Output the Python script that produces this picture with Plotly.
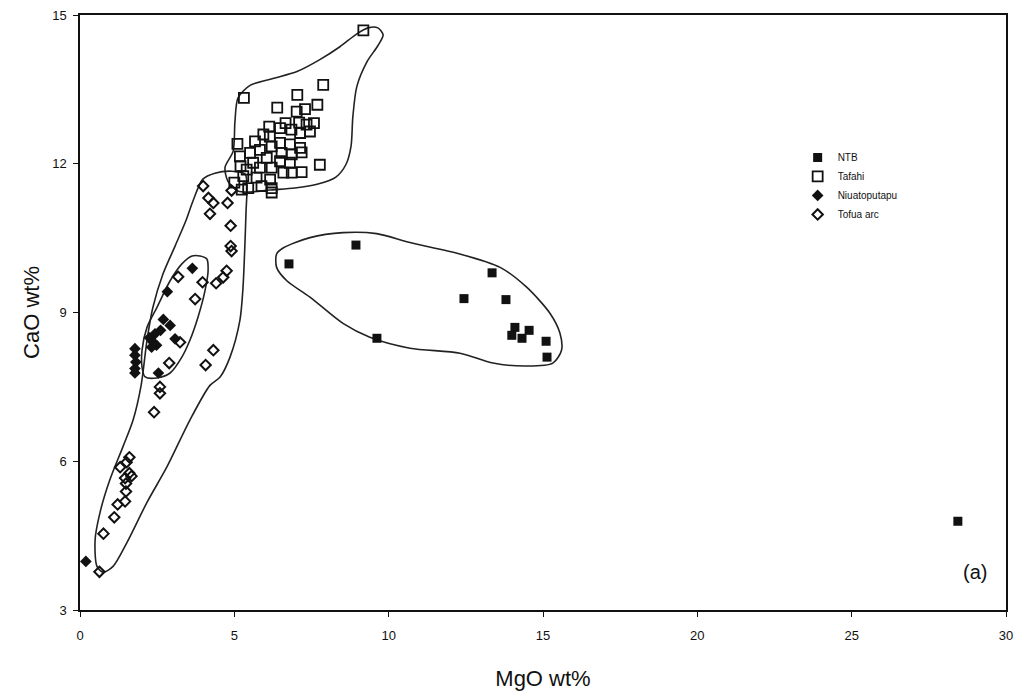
import plotly.graph_objects as go

# ---------------- data ----------------
ntb_mgo = [6.77, 8.94, 9.62, 12.44, 13.35, 13.80, 14.09, 13.99, 14.32, 14.55, 15.10, 15.13, 28.44]
ntb_cao = [9.98, 10.36, 8.48, 9.28, 9.80, 9.26, 8.70, 8.54, 8.48, 8.64, 8.42, 8.10, 4.79]

tafahi_mgo = [9.18, 5.31, 7.88, 7.04, 6.39, 7.69, 7.29, 7.02, 6.66, 7.58, 7.10, 7.34, 6.13,
              6.48, 6.85, 7.45, 5.94, 7.13, 6.15, 5.67, 6.48, 6.80, 5.10, 6.21, 7.13, 5.83,
              5.51, 6.53, 6.86, 6.05, 5.18, 5.61, 6.48, 7.18, 7.77, 6.80, 5.40, 5.83, 6.21,
              6.59, 6.86, 7.18, 5.29, 5.72, 6.16, 5.45, 5.88, 6.21, 5.24, 5.00, 5.20, 6.21]
tafahi_cao = [14.69, 13.33, 13.59, 13.39, 13.13, 13.19, 13.10, 13.05, 12.82, 12.82, 12.83, 12.79, 12.75,
              12.72, 12.69, 12.65, 12.59, 12.62, 12.55, 12.45, 12.42, 12.39, 12.40, 12.35, 12.32, 12.28,
              12.22, 12.22, 12.19, 12.12, 12.15, 12.02, 12.05, 12.23, 11.98, 12.02, 11.88, 11.92, 11.92,
              11.82, 11.82, 11.83, 11.75, 11.72, 11.68, 11.51, 11.55, 11.51, 11.48, 11.62, 11.95, 11.42]

niua_mgo = [3.64, 2.83, 2.70, 2.92, 2.61, 2.43, 2.25, 2.37, 2.48, 2.32, 3.08, 2.54,
            1.78, 1.78, 1.81, 1.78, 1.78, 0.19]
niua_cao = [9.89, 9.42, 8.86, 8.74, 8.64, 8.57, 8.49, 8.40, 8.34, 8.30, 8.47, 7.78,
            8.27, 8.14, 8.00, 7.87, 7.78, 3.98]

tofua_mgo = [3.99, 4.16, 4.32, 4.21, 4.78, 4.91, 4.88, 4.88, 4.91, 4.75, 4.64, 4.41, 3.97,
             3.18, 3.73, 3.24, 2.89, 4.32, 4.07, 2.59, 2.59, 2.40, 1.60, 1.51, 1.30, 1.60,
             1.46, 1.67, 1.49, 1.49, 1.46, 1.22, 1.11, 0.76, 0.63]
tofua_cao = [11.55, 11.31, 11.21, 10.99, 11.21, 11.46, 10.75, 10.34, 10.24, 9.84, 9.71, 9.59, 9.61,
             9.72, 9.27, 8.40, 7.98, 8.24, 7.94, 7.50, 7.37, 6.99, 6.08, 5.98, 5.88, 5.76,
             5.66, 5.70, 5.55, 5.39, 5.19, 5.13, 4.87, 4.54, 3.77]

# envelope outlines drawn by hand in the original figure
env_tafahi_x = [4.70, 4.96, 5.02, 5.12, 5.51, 6.25, 7.03, 7.77, 8.42, 8.97, 9.33, 9.65, 9.82, 9.65,
                9.30, 8.97, 8.84, 8.78, 8.62, 8.29, 7.71, 6.96, 6.15, 5.51, 5.12, 4.79, 4.70]
env_tafahi_y = [11.93, 12.25, 12.85, 13.33, 13.58, 13.72, 13.86, 14.10, 14.36, 14.62, 14.74, 14.74, 14.60, 14.38,
                14.06, 13.56, 12.95, 12.35, 11.99, 11.73, 11.59, 11.51, 11.47, 11.43, 11.45, 11.65, 11.93]

env_tofua_x = [3.43, 3.66, 3.98, 4.37, 4.92, 5.35, 5.41, 5.38, 5.35, 5.28, 5.18, 4.86, 4.54, 4.21,
               3.56, 2.82, 2.17, 1.52, 1.07, 0.75, 0.55, 0.49, 0.65, 0.97, 1.39, 1.72, 1.98, 2.17,
               2.36, 2.69, 3.08, 3.43]
env_tofua_y = [10.85, 11.25, 11.69, 11.81, 11.85, 11.79, 11.55, 11.05, 10.50, 9.50, 8.84, 8.10, 7.70, 7.53,
               6.83, 5.89, 5.17, 4.36, 3.88, 3.76, 3.88, 4.42, 4.97, 5.63, 6.29, 6.83, 7.53, 8.44,
               9.10, 9.78, 10.34, 10.85]

env_niua_x = [3.89, 4.11, 4.15, 4.05, 3.82, 3.56, 3.30, 2.92, 2.49, 2.11, 2.01, 2.01, 2.17, 2.49,
              2.92, 3.30, 3.63, 3.89]
env_niua_y = [10.14, 10.08, 9.84, 9.44, 8.90, 8.44, 8.10, 7.78, 7.68, 7.70, 7.90, 8.24, 8.70, 9.10,
              9.64, 9.98, 10.14, 10.14]

env_ntb_x = [6.37, 6.58, 7.45, 8.52, 9.61, 10.69, 12.31, 13.61, 14.47, 15.23, 15.55, 15.60, 15.32,
             14.47, 13.38, 12.31, 10.69, 9.39, 8.52, 7.45, 6.70, 6.37, 6.37]
env_ntb_y = [10.18, 10.30, 10.51, 10.61, 10.59, 10.41, 10.18, 9.91, 9.51, 8.98, 8.58, 8.24, 7.98,
             7.92, 7.98, 8.18, 8.28, 8.50, 8.78, 9.31, 9.64, 9.91, 10.18]

x_ticks = [0, 5, 10, 15, 20, 25, 30]
y_ticks = [3, 6, 9, 12, 15]

FONT = "Arial, Liberation Sans, sans-serif"
INK = "#111111"

fig = go.Figure()

for ex, ey in [(env_tafahi_x, env_tafahi_y), (env_tofua_x, env_tofua_y),
               (env_niua_x, env_niua_y), (env_ntb_x, env_ntb_y)]:
    fig.add_trace(go.Scatter(x=ex, y=ey, mode="lines", showlegend=False, hoverinfo="skip",
                             line=dict(color="#222222", width=1.6, shape="spline", smoothing=0.8)))

fig.add_trace(go.Scatter(x=ntb_mgo, y=ntb_cao, mode="markers", name="NTB",
                         marker=dict(symbol="square", size=9, color=INK)))
fig.add_trace(go.Scatter(x=tafahi_mgo, y=tafahi_cao, mode="markers", name="Tafahi",
                         marker=dict(symbol="square-open", size=10, color=INK, line=dict(width=1.8, color=INK))))
fig.add_trace(go.Scatter(x=niua_mgo, y=niua_cao, mode="markers", name="Niuatoputapu",
                         marker=dict(symbol="diamond", size=9, color=INK)))
fig.add_trace(go.Scatter(x=tofua_mgo, y=tofua_cao, mode="markers", name="Tofua arc",
                         marker=dict(symbol="diamond-open", size=8, color=INK, line=dict(width=2, color=INK))))

axis_common = dict(showgrid=False, zeroline=False, showline=True, linecolor=INK, linewidth=1.5,
                   mirror=True, ticks="outside", ticklen=5, tickcolor=INK, tickwidth=1.2,
                   tickfont=dict(family=FONT, size=13, color="#111111"))

fig.update_xaxes(range=[0, 30], tickvals=x_ticks, ticklabelstandoff=8,
                 title=dict(text="MgO wt%", font=dict(family=FONT, size=22, color=INK), standoff=28),
                 **axis_common)
fig.update_yaxes(range=[3, 15], tickvals=y_ticks, ticklabelstandoff=4,
                 title=dict(text="CaO wt%", font=dict(family=FONT, size=22, color=INK), standoff=6),
                 **axis_common)

fig.add_annotation(x=0.982, y=0.042, xref="paper", yref="paper", text="(a)", showarrow=False,
                   font=dict(family=FONT, size=20, color=INK))

fig.update_layout(
    width=1021, height=695,
    margin=dict(l=80, r=11, t=8, b=84),
    paper_bgcolor="white", plot_bgcolor="white",
    legend=dict(x=0.775, y=0.785, xanchor="left", yanchor="top", bgcolor="rgba(0,0,0,0)",
                font=dict(family=FONT, size=10, color=INK), itemwidth=30, tracegroupgap=0),
)

fig.write_html("out.html")
